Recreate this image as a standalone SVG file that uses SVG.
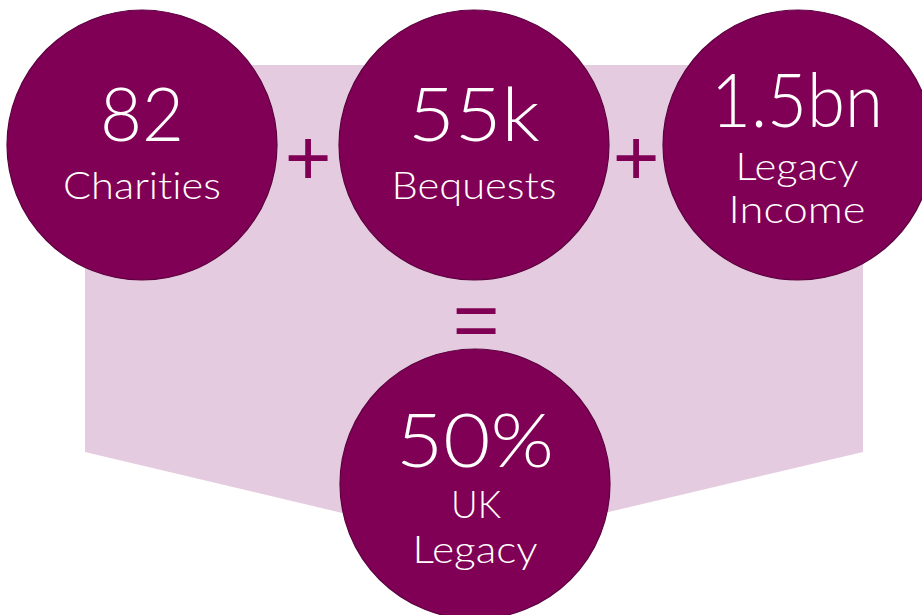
<svg xmlns="http://www.w3.org/2000/svg" width="922" height="615" viewBox="0 0 922 615">
<style>
.bg{fill:#e5cbdf}
.c{fill:#800055;stroke:#5c0040;stroke-width:1.2}
.t{fill:#ffffff;font-family:Lato,"Open Sans","Liberation Sans",sans-serif;font-weight:300;text-anchor:middle;font-variant-ligatures:none;font-feature-settings:"liga" 0,"clig" 0}
.big{font-size:75px}
.sm{font-size:37px}
.op{fill:#800055;font-family:"Liberation Sans",Arial,sans-serif;font-size:80px;text-anchor:middle}
</style>
<rect width="922" height="615" fill="#ffffff"/>
<polygon class="bg" points="85,65 863,65 863,452 473,544 85,452"/>
<g id="connectors">
<text class="op" x="308" y="185">+</text>
<text class="op" x="636" y="185">+</text>
<text class="op" x="476" y="347">=</text>
</g>
<g id="node-charities">
<circle class="c" cx="142" cy="145" r="135"/>
<text class="t big" x="142" y="141" textLength="84" lengthAdjust="spacingAndGlyphs">82</text>
<text class="t sm" x="142" y="199" textLength="158" lengthAdjust="spacingAndGlyphs">Charities</text>
</g>
<g id="node-bequests">
<circle class="c" cx="474" cy="145" r="135"/>
<text class="t big" x="474" y="141" textLength="132" lengthAdjust="spacingAndGlyphs">55k</text>
<text class="t sm" x="474" y="199" textLength="165" lengthAdjust="spacingAndGlyphs">Bequests</text>
</g>
<g id="node-income">
<circle class="c" cx="798" cy="145" r="135"/>
<text class="t big" x="797" y="127" textLength="172" lengthAdjust="spacingAndGlyphs">1.5bn</text>
<text class="t sm" x="797" y="180" textLength="123" lengthAdjust="spacingAndGlyphs">Legacy</text>
<text class="t sm" x="797" y="223" textLength="137" lengthAdjust="spacingAndGlyphs">Income</text>
</g>
<g id="node-legacy">
<circle class="c" cx="475" cy="484" r="135"/>
<text class="t big" x="475" y="467" textLength="158" lengthAdjust="spacingAndGlyphs">50%</text>
<text class="t sm" x="476" y="518" textLength="50" lengthAdjust="spacingAndGlyphs">UK</text>
<text class="t sm" x="475" y="563" textLength="125" lengthAdjust="spacingAndGlyphs">Legacy</text>
</g>
</svg>
